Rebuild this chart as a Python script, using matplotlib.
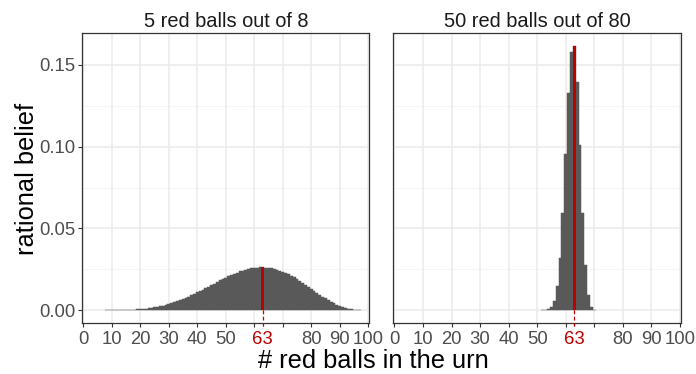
import matplotlib
matplotlib.use("Agg")
import matplotlib.pyplot as plt
from matplotlib.transforms import blended_transform_factory

plt.rcParams['font.family'] = ['Liberation Sans', 'DejaVu Sans']

# ---------------- data ----------------
panel_titles = ["5 red balls out of 8", "50 red balls out of 80"]

left_k = list(range(8, 98))
left_belief = [
    0.0000034, 0.0000073, 0.0000142, 0.0000251, 0.0000416, 0.0000652, 0.0000980,
    0.000142, 0.000199, 0.000272, 0.000363, 0.000475, 0.000610, 0.000771, 0.000959,
    0.001179, 0.001431, 0.001718, 0.002042, 0.002404, 0.002807, 0.003250, 0.003735,
    0.004262, 0.004832, 0.005444, 0.006097, 0.006790, 0.007521, 0.008289, 0.009090,
    0.009922, 0.010782, 0.011666, 0.012569, 0.013487, 0.014415, 0.015348, 0.016280,
    0.017206, 0.018120, 0.019015, 0.019885, 0.020724, 0.021525, 0.022282, 0.022988,
    0.023638, 0.024225, 0.024744, 0.025189, 0.025556, 0.025839, 0.026035, 0.026140,
    0.026152, 0.026068, 0.025887, 0.025608, 0.025232, 0.024759, 0.024191, 0.023531,
    0.022782, 0.021950, 0.021039, 0.020057, 0.019010, 0.017907, 0.016757, 0.015569,
    0.014355, 0.013125, 0.011890, 0.010663, 0.009455, 0.008279, 0.007147, 0.006071,
    0.005061, 0.004127, 0.003280, 0.002526, 0.001871, 0.001319, 0.000871, 0.000526,
    0.000278, 0.000117, 0.000031,
]

right_k = list(range(52, 71))
right_belief = [
    0.0000145, 0.0000961, 0.000469, 0.001795, 0.005585, 0.014470, 0.031716,
    0.059404, 0.095625, 0.132571, 0.158066, 0.161265, 0.139472, 0.100730,
    0.059359, 0.027523, 0.009452, 0.002145, 0.000242,
]

true_count = 63

x_ticks = [0, 10, 20, 30, 40, 50, 60, 63, 70, 80, 90, 100]
x_tick_labels = ["0", "10", "20", "30", "40", "50", "", "63", "", "80", "90", "100"]
x_grid = [0, 10, 20, 30, 40, 50, 60, 70, 80, 90, 100]
y_ticks = [0.00, 0.05, 0.10, 0.15]
y_tick_labels = ["0.00", "0.05", "0.10", "0.15"]
y_minor = [0.025, 0.075, 0.125]

x_label = "# red balls in the urn"
y_label = "rational belief"

# ---------------- style ----------------
bar_color = "#595959"
red = "#BB0000"
grid_major = "#EBEBEB"
grid_minor = "#F4F4F4"
frame = "#333333"
tick_text = "#4D4D4D"

W, H = 696, 374
fig = plt.figure(figsize=(W / 100, H / 100), dpi=100)
ax_l = fig.add_axes([82.3 / W, 50.7 / H, 287.0 / W, 290.0 / H])
ax_r = fig.add_axes([393.3 / W, 50.7 / H, 287.7 / W, 290.0 / H])

ymax_data = max(max(left_belief), max(right_belief))
ylo, yhi = -0.05 * ymax_data, 1.05 * ymax_data

for ax, ks, vals, title in [(ax_l, left_k, left_belief, panel_titles[0]),
                            (ax_r, right_k, right_belief, panel_titles[1])]:
    ax.set_xlim(-0.4, 100.4)
    ax.set_ylim(ylo, yhi)
    for yv in y_minor:
        ax.axhline(yv, color=grid_minor, lw=0.6, zorder=0)
    for yv in y_ticks:
        ax.axhline(yv, color=grid_major, lw=1.1, zorder=0)
    for xv in x_grid:
        ax.axvline(xv, color=grid_major, lw=1.1, zorder=0)

    ax.bar(ks, vals, width=1.0, color=bar_color, edgecolor=bar_color,
           linewidth=0.35, zorder=2)
    hi = vals[ks.index(true_count)]
    ax.bar([true_count], [hi], width=1.15, color=red, linewidth=0, zorder=3)

    tr = blended_transform_factory(ax.transData, ax.transAxes)
    y0_axes = (0 - ylo) / (yhi - ylo)
    ax.plot([true_count, true_count], [y0_axes, -0.013], transform=tr,
            color=red, lw=0.9, linestyle=(0, (3, 2)), clip_on=False, zorder=4)

    ax.set_xticks(x_ticks)
    ax.set_xticklabels(x_tick_labels)
    ax.set_yticks(y_ticks)
    ax.set_yticklabels(y_tick_labels)
    ax.tick_params(axis='both', length=2.75, width=0.8, color=frame,
                   labelsize=13.3, labelcolor=tick_text, pad=2.5)
    idx = x_ticks.index(true_count)
    ax.xaxis.get_major_ticks()[idx].tick1line.set_visible(False)
    ax.get_xticklabels()[idx].set_color(red)

    for s in ax.spines.values():
        s.set_color(frame)
        s.set_linewidth(0.9)

    ax.text(0.5, 1 + 6.3 / 290, title, transform=ax.transAxes, ha='center',
            va='baseline', fontsize=14.4, color="#1A1A1A")

ax_r.tick_params(axis='y', left=False, labelleft=False)

fig.text(373 / W, 5.5 / H, x_label, ha='center', va='baseline', fontsize=18.3, color='black')
fig.text(27.5 / W, 1 - 179 / H, y_label, ha='center', va='center', rotation=90,
         fontsize=18.3, color='black')

fig.savefig("out.png", dpi=100)
